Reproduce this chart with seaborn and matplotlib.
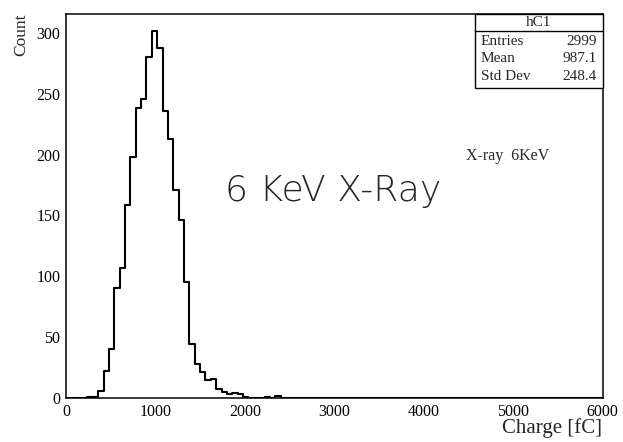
import numpy as np
import pandas as pd
import matplotlib
matplotlib.use("Agg")
import matplotlib.pyplot as plt
from matplotlib.ticker import MultipleLocator
import seaborn as sns

# Histogram content: 100 bins of 60 fC from 0 to 6000
bin_width = 60
counts = [0, 0, 0, 0, 1, 1, 6, 22, 40, 90,
          107, 159, 198, 238, 246, 280, 302, 288, 236, 213,
          171, 146, 95, 44, 28, 21, 15, 16, 7, 5,
          3, 4, 3, 1, 0, 0, 0, 1, 0, 2] + [0] * 60
stats_labels = ["Entries", "Mean", "Std Dev"]
stats_values = ["2999", "987.1", "248.4"]
hist_name = "hC1"

centers = np.arange(len(counts)) * bin_width + bin_width / 2
df = pd.DataFrame({"charge": centers, "count": counts})

sns.set_style("white")
plt.rcParams["font.family"] = ["Liberation Serif", "DejaVu Serif"]

fig = plt.figure(figsize=(6.23, 4.42), dpi=100)
ax = fig.add_axes([66 / 623, 1 - 398 / 442, (602.5 - 66) / 623, (398 - 13.5) / 442])

sns.histplot(data=df, x="charge", weights="count", binwidth=bin_width,
             binrange=(0, 6000), element="step", fill=False, color="black",
             linewidth=1.5, ax=ax)

ax.set_xlim(0, 6000)
ax.set_ylim(0, 316)
ax.xaxis.set_major_locator(MultipleLocator(1000))
ax.xaxis.set_minor_locator(MultipleLocator(200))
ax.yaxis.set_major_locator(MultipleLocator(50))
ax.yaxis.set_minor_locator(MultipleLocator(10))
ax.tick_params(axis="both", which="both", direction="in", labelsize=11.5,
               colors="black", width=1.0)
ax.tick_params(axis="x", which="major", length=11.5, pad=4)
ax.tick_params(axis="x", which="minor", length=5.5)
ax.tick_params(axis="y", which="major", length=16, pad=4)
ax.tick_params(axis="y", which="minor", length=8)
for s in ax.spines.values():
    s.set_color("black")
    s.set_linewidth(1.1)
ax.set_xlabel("")
ax.set_ylabel("")

# axis titles, ROOT style (aligned to the axis ends)
fig.text(602 / 623, 1 - 433 / 442, "Charge [fC]", ha="right", va="baseline", fontsize=15)
fig.text(21 / 623, 1 - 13 / 442, "Count", ha="center", va="top", rotation=90, fontsize=12.5)

# statistics box
bx0, bx1 = 475 / 623, 602.5 / 623
by_top, by_head, by_bot = 1 - 13.5 / 442, 1 - 30.7 / 442, 1 - 87.5 / 442
fig.add_artist(plt.Rectangle((bx0, by_bot), bx1 - bx0, by_top - by_bot,
                             transform=fig.transFigure, fill=True, facecolor="white",
                             edgecolor="black", linewidth=1.0))
fig.add_artist(plt.Line2D([bx0, bx1], [by_head, by_head], transform=fig.transFigure,
                          color="black", linewidth=1.0))
fig.text((bx0 + bx1) / 2, 1 - 22.5 / 442, hist_name, ha="center", va="center", fontsize=11)
for i, (lab, val) in enumerate(zip(stats_labels, stats_values)):
    y = 1 - (41.5 + i * 17.5) / 442
    fig.text(481 / 623, y, lab, ha="left", va="center", fontsize=11)
    fig.text(597 / 623, y, val, ha="right", va="center", fontsize=11)

# annotations
fig.text(466 / 623, 1 - 156 / 442, "X-ray  6KeV", ha="left", va="center", fontsize=11.5)
fig.text(333 / 623, 1 - 191 / 442, "6 KeV X-Ray", ha="center", va="center", fontsize=26,
         family=["DejaVu Sans"], fontweight="light")

fig.savefig("out.png", dpi=100)
